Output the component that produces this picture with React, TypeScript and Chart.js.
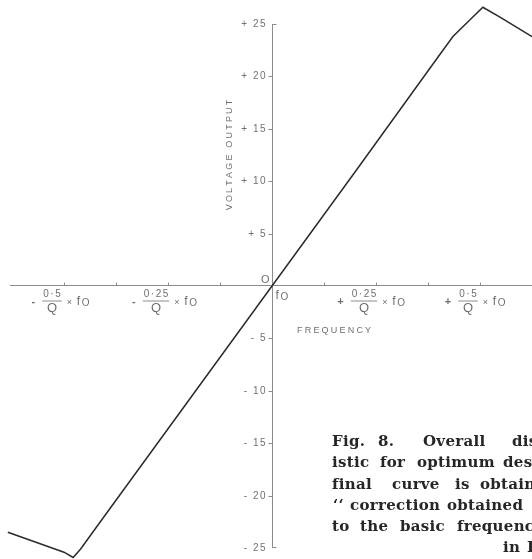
import React, { useEffect, useRef } from "react";
import { Chart, registerables } from "chart.js";

Chart.register(...registerables);

// Curve: frequency offset (in units of f0 x 1/Q) vs voltage output
const frequency = [-0.635, -0.5, -0.478, -0.46, -0.4, -0.2, 0, 0.2, 0.4, 0.435, 0.476, 0.507, 0.55, 0.625];
const voltage = [-23.5, -25.4, -25.9, -25.1, -21.8, -10.9, 0, 10.9, 21.9, 23.8, 25.4, 26.6, 25.6, 23.8];

const yTicks = [25, 20, 15, 10, 5, -5, -10, -15, -20, -25];
const xTicks = [-0.5, -0.375, -0.25, -0.125, 0.125, 0.25, 0.375, 0.5];
const xLabelValues = [-0.5, -0.25, 0.25, 0.5];
const xLabelNumerators = ["0·5", "0·25", "0·25", "0·5"];

const captionLines = [
  ["Fig.", "8.", "Overall", "discriminator"],
  ["istic", "for", "optimum", "design."],
  ["final", "curve", "is", "obtained"],
  ["\u2018\u2018", "correction", "obtained"],
  ["to", "the", "basic", "frequency"],
  ["in", "Fig."],
];

function spacedText(ctx: CanvasRenderingContext2D, text: string, x: number, y: number, spacing: number, align: "left" | "right" | "center") {
  const chars = Array.from(text);
  const widths = chars.map((c) => ctx.measureText(c).width);
  const total = widths.reduce((a, b) => a + b, 0) + spacing * (chars.length - 1);
  let start = x;
  if (align === "right") start = x - total;
  if (align === "center") start = x - total / 2;
  const prevAlign = ctx.textAlign;
  ctx.textAlign = "left";
  chars.forEach((c, i) => {
    ctx.fillText(c, start, y);
    start += widths[i] + spacing;
  });
  ctx.textAlign = prevAlign;
  return total;
}

const axesPlugin = {
  id: "scanAxes",
  beforeDatasetsDraw(chart: any) {
    const ctx: CanvasRenderingContext2D = chart.ctx;
    const xs = chart.scales.x;
    const ys = chart.scales.y;
    const x0 = Math.round(xs.getPixelForValue(0)) + 0.5;
    const y0 = Math.round(ys.getPixelForValue(0)) - 0.5;
    ctx.save();
    ctx.fillStyle = "#ffffff";
    ctx.fillRect(0, 0, chart.width, chart.height);

    ctx.strokeStyle = "#8c8c8c";
    ctx.lineWidth = 1;
    // horizontal axis
    ctx.beginPath();
    ctx.moveTo(xs.getPixelForValue(-0.63), y0);
    ctx.lineTo(chart.width, y0);
    ctx.stroke();
    // vertical axis
    const yTop = ys.getPixelForValue(25);
    const yBot = ys.getPixelForValue(-25);
    ctx.beginPath();
    ctx.moveTo(x0, yTop);
    ctx.lineTo(x0, yBot);
    ctx.moveTo(x0, yTop + 0.5);
    ctx.lineTo(x0 + 4, yTop + 0.5);
    ctx.moveTo(x0, yBot - 0.5);
    ctx.lineTo(x0 + 4, yBot - 0.5);
    ctx.stroke();

    // y ticks and labels
    ctx.fillStyle = "#707070";
    ctx.font = "10px 'Liberation Sans'";
    ctx.textBaseline = "middle";
    yTicks.forEach((v) => {
      const py = Math.round(ys.getPixelForValue(v)) + 0.5;
      if (v !== 25 && v !== -25) {
        ctx.beginPath();
        ctx.moveTo(x0 - 4, py);
        ctx.lineTo(x0, py);
        ctx.stroke();
      }
      const label = (v > 0 ? "+ " : "- ") + Math.abs(v);
      spacedText(ctx, label, x0 - 7, py, 1.5, "right");
    });
    // zero
    ctx.font = "11px 'Liberation Sans'";
    spacedText(ctx, "O", x0 - 3, y0 - 6, 0, "right");
    ctx.font = "12px 'Liberation Sans'";
    ctx.fillText("f", x0 + 3, y0 + 10);
    ctx.font = "10px 'Liberation Sans'";
    ctx.fillText("O", x0 + 8, y0 + 12);

    // x ticks
    xTicks.forEach((v) => {
      const px = Math.round(xs.getPixelForValue(v)) + 0.5;
      ctx.beginPath();
      ctx.moveTo(px, y0);
      ctx.lineTo(px, y0 - 3);
      ctx.stroke();
    });

    // x labels with fractions
    xLabelValues.forEach((v, i) => {
      const cx = xs.getPixelForValue(v) - 12;
      const num = xLabelNumerators[i];
      ctx.font = "10px 'Liberation Sans'";
      const numW = ctx.measureText(num).width + 1.5 * (num.length - 1);
      spacedText(ctx, num, cx, y0 + 9, 1.5, "center");
      ctx.beginPath();
      ctx.moveTo(cx - numW / 2 - 1, y0 + 15.5);
      ctx.lineTo(cx + numW / 2 + 1, y0 + 15.5);
      ctx.stroke();
      ctx.font = "13px 'Liberation Sans'";
      spacedText(ctx, "Q", cx, y0 + 23, 0, "center");
      ctx.font = "bold 11px 'Liberation Sans'";
      spacedText(ctx, v < 0 ? "-" : "+", cx - numW / 2 - 8, y0 + 16, 0, "right");
      ctx.font = "9px 'Liberation Sans'";
      const xx = cx + numW / 2 + 6;
      ctx.fillText("\u00d7", xx, y0 + 17);
      ctx.font = "12px 'Liberation Sans'";
      ctx.fillText("f", xx + 10, y0 + 16);
      ctx.font = "10px 'Liberation Sans'";
      ctx.fillText("O", xx + 15, y0 + 18);
    });

    // axis titles
    ctx.font = "9px 'Liberation Sans'";
    spacedText(ctx, "FREQUENCY", 297, 331, 2.2, "left");
    ctx.save();
    ctx.translate(230, 155);
    ctx.rotate(-Math.PI / 2);
    spacedText(ctx, "VOLTAGE OUTPUT", 0, 0, 2.2, "center");
    ctx.restore();
    ctx.restore();
  },
  afterDraw(chart: any) {
    const ctx: CanvasRenderingContext2D = chart.ctx;
    const wordX = [
      [332, 378, 423, 512],
      [332, 380, 417, 503],
      [332, 392, 455, 480],
      [333, 350, 447],
      [332, 360, 400, 457],
      [503, 527],
    ];
    const lineY = [442, 463, 485, 506, 527, 548];
    ctx.save();
    ctx.fillStyle = "#262626";
    ctx.font = "bold 15px 'DejaVu Serif'";
    ctx.textBaseline = "middle";
    captionLines.forEach((words, li) => {
      words.forEach((w, wi) => {
        spacedText(ctx, w, wordX[li][wi], lineY[li], 0.3, "left");
      });
    });
    ctx.restore();
  },
};

export default function App() {
  const canvasRef = useRef<HTMLCanvasElement | null>(null);
  useEffect(() => {
    document.body.style.margin = "0";
    const canvas = canvasRef.current;
    if (!canvas) return;
    const chart = new Chart(canvas, {
      type: "line",
      data: {
        datasets: [
          {
            data: frequency.map((f, i) => ({ x: f, y: voltage[i] })),
            borderColor: "#2b2b2b",
            borderWidth: 1.5,
            pointRadius: 0,
            tension: 0,
            fill: false,
          },
        ],
      },
      options: {
        responsive: false,
        animation: false,
        layout: { padding: 0 },
        plugins: { legend: { display: false }, tooltip: { enabled: false }, title: { display: false } },
        scales: {
          x: { type: "linear", min: -272 / 416, max: 260 / 416, display: false },
          y: { type: "linear", min: -273 / 10.48, max: 286 / 10.48, display: false },
        },
      },
      plugins: [axesPlugin],
    });
    return () => chart.destroy();
  }, []);
  return <canvas ref={canvasRef} width={532} height={559} style={{ display: "block" }} />;
}
